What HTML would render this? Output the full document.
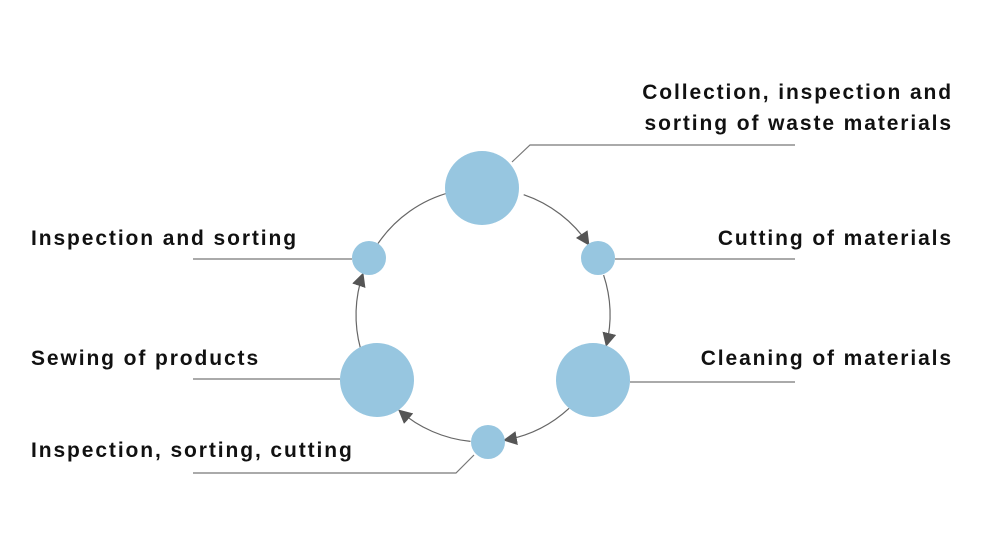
<!DOCTYPE html>
<html><head><meta charset="utf-8"><style>
html,body{margin:0;padding:0;background:#fff;}
body{width:981px;height:560px;position:relative;overflow:hidden;font-family:"Liberation Sans",sans-serif;}
.t{position:absolute;font-weight:bold;font-size:21px;letter-spacing:1.9px;color:#111;white-space:nowrap;line-height:24px;}
.r{text-align:right;right:28px;}
.l{left:31px;}
</style></head><body>
<svg id="s" width="981" height="560" style="position:absolute;left:0;top:0">
<defs><marker id="a" viewBox="0 0 10 10" refX="9" refY="5" markerWidth="14" markerHeight="14" markerUnits="userSpaceOnUse" orient="auto"><path d="M0,0 L10,5 L0,10 z" fill="#555"/></marker></defs>
<g stroke="#777" stroke-width="1.2" fill="none">
<polyline points="512,162 530,145 795,145"/>
<line x1="615" y1="259" x2="795" y2="259"/>
<line x1="630" y1="382" x2="795" y2="382"/>
<line x1="193" y1="259" x2="352" y2="259"/>
<line x1="193" y1="379" x2="340" y2="379"/>
<polyline points="193,473 456,473 474,455"/>
</g>
<g id="arcs" stroke="#666" stroke-width="1.2" fill="none"></g>
<g fill="#97c6e0">
<circle cx="482" cy="188" r="37"/>
<circle cx="598" cy="258" r="17"/>
<circle cx="369" cy="258" r="17"/>
<circle cx="377" cy="380" r="37"/>
<circle cx="593" cy="380" r="37"/>
<circle cx="488" cy="442" r="17"/>
</g>
</svg>
<script>
var cx=483,cy=315,R=127;
var n=[[-88,37],[-26,17],[30.6,37],[88,17],[148,37],[206.6,17]];
var g=document.getElementById('arcs'),h='';
function p(a){a=a*Math.PI/180;return (cx+R*Math.cos(a)).toFixed(1)+','+(cy+R*Math.sin(a)).toFixed(1);}
for(var i=0;i<6;i++){var A=n[i],B=n[(i+1)%6];
var a1=A[0]+A[1]/R*180/Math.PI,a2=B[0]-B[1]/R*180/Math.PI;
h+='<path d="M'+p(a1)+' A'+R+','+R+' 0 0 1 '+p(a2)+'"'+(i<5?' marker-end="url(#a)"':'')+'/>';}
g.innerHTML=h;
</script>
<div class="t r" style="top:81px">Collection, inspection and</div>
<div class="t r" style="top:112px">sorting of waste materials</div>
<div class="t r" style="top:227px">Cutting of materials</div>
<div class="t r" style="top:347px">Cleaning of materials</div>
<div class="t l" style="top:227px">Inspection and sorting</div>
<div class="t l" style="top:347px">Sewing of products</div>
<div class="t l" style="top:439px">Inspection, sorting, cutting</div>
</body></html>
